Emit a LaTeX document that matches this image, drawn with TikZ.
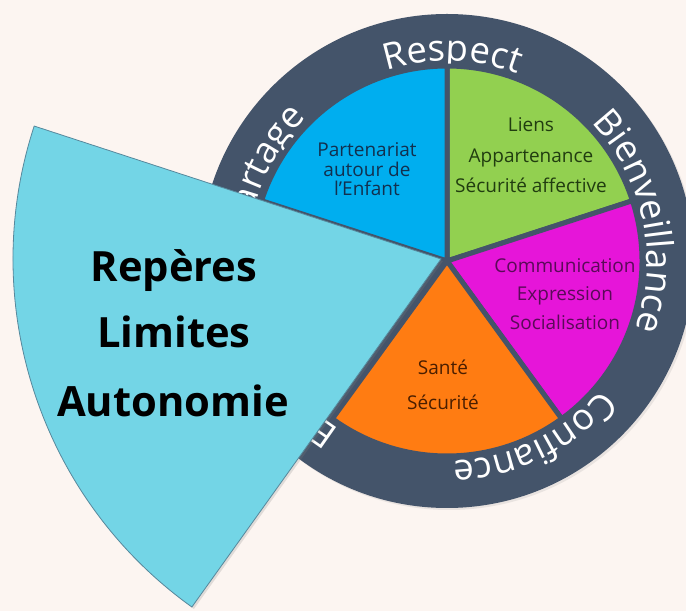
\documentclass[tikz,border=0pt]{standalone}
\usepackage{fontspec}
\setmainfont{Open Sans}
\usetikzlibrary{decorations.text,shadows,calc}
\definecolor{bg}{HTML}{FCF5F1}
\definecolor{ring}{HTML}{44546A}
\definecolor{cblue}{HTML}{00AEEF}
\definecolor{cgreen}{HTML}{92D050}
\definecolor{cmag}{HTML}{E615D9}
\definecolor{corange}{HTML}{FF7C12}
\definecolor{ccyan}{HTML}{73D5E6}
\definecolor{tblue}{HTML}{12304F}
\definecolor{tgreen}{HTML}{213D10}
\definecolor{tmag}{HTML}{5A0A58}
\definecolor{torange}{HTML}{4A1E00}
\newcommand\myringfont{\fontsize{36.5}{36.5}\selectfont\color{white}}
\begin{document}
\begin{tikzpicture}[x=1pt,y=1pt,
  slice/.style={draw=ring, line width=5pt, line join=round},
  intext/.style={anchor=base, inner sep=0pt, font=\fontsize{19}{19}\selectfont},
  bigtext/.style={anchor=base, inner sep=0pt, font=\bfseries\fontsize{41.7}{41.7}\selectfont, text=black},
  ringword/.style={decorate, decoration={text along path, text align=center, text={|\myringfont|#1}}}
]
\useasboundingbox (0,0) rectangle (686,611);
\clip (0,0) rectangle (686,611);
\fill[bg] (0,0) rectangle (686,611);
\coordinate (C) at (447,350);
\coordinate (W) at (441,352);
% ring disc
\fill[ring, drop shadow={shadow xshift=2pt, shadow yshift=-2pt, opacity=0.15}] (C) circle[radius=247pt];
% ring words
\path[ringword=Respect] (C) ++(118.5:200pt) arc[start angle=118.5, end angle=58.5, radius=200pt];
\path[ringword=Bienveillance] (C) ++(52:200pt) arc[start angle=52, end angle=-28, radius=200pt];
\path[ringword=Confiance] (C) ++(-24:200pt) arc[start angle=-24, end angle=-104, radius=200pt];
\path[ringword=artage] (C) ++(180:200pt) arc[start angle=180, end angle=120, radius=200pt];
\node[anchor=base, inner sep=0pt, rotate=145, font=\myringfont] (e1) at ($(C)+(234.5:200pt)$) {E};
% slices
\filldraw[slice, fill=cgreen] (C) -- ++(90:195pt) arc[start angle=90, end angle=18, radius=195pt] -- cycle;
\filldraw[slice, fill=cmag] (C) -- ++(18:195pt) arc[start angle=18, end angle=-54, radius=195pt] -- cycle;
\filldraw[slice, fill=corange] (C) -- ++(-54:195pt) arc[start angle=-54, end angle=-126, radius=195pt] -- cycle;
\filldraw[slice, fill=cblue] (C) -- ++(162:195pt) arc[start angle=162, end angle=90, radius=195pt] -- cycle;
% slice texts
\node[intext, text=tblue] (p1) at (367,454) {Partenariat};
\node[intext, text=tblue] (p2) at (367,434) {autour de};
\node[intext, text=tblue] (p3) at (367,415) {l’Enfant};
\node[intext, text=tgreen] (g1) at (531,479) {Liens};
\node[intext, text=tgreen] (g2) at (531,448) {Appartenance};
\node[intext, text=tgreen] (g3) at (531,418) {Sécurité affective};
\node[intext, text=tmag] (m1) at (565,338) {Communication};
\node[intext, text=tmag] (m2) at (565,310) {Expression};
\node[intext, text=tmag] (m3) at (565,281) {Socialisation};
\node[intext, text=torange] (o1) at (443,236) {Santé};
\node[intext, text=torange] (o2) at (443,201) {Sécurité};
% exploded wedge
\filldraw[fill=ccyan, draw=ring!60!ccyan, line width=0.8pt,
  drop shadow={shadow xshift=2pt, shadow yshift=-2pt, opacity=0.22}]
  (W) -- ++(161.9:428pt) arc[start angle=161.9, end angle=234.4, radius=428pt] -- cycle;
\node[bigtext] (w1) at (174,329) {Repères};
\node[bigtext] (w2) at (174,263) {Limites};
\node[bigtext] (w3) at (173,194) {Autonomie};
\end{tikzpicture}
\end{document}
